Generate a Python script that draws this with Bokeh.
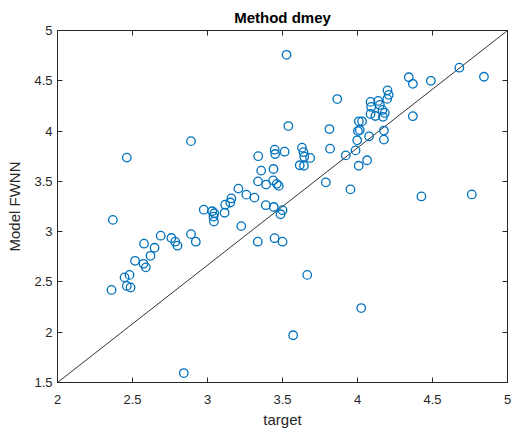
from bokeh.plotting import figure
from bokeh.models import LinearAxis, FixedTicker, Range1d
from bokeh.embed import file_html
from bokeh.resources import INLINE

# Target values and model (FWNN) predictions
target = [
    2.369, 2.360, 2.462, 2.447, 2.480, 2.462, 2.487, 2.517, 2.577, 2.573,
    2.589, 2.620, 2.647, 2.688, 2.759, 2.785, 2.800, 2.842, 2.890, 2.922,
    2.890, 2.975, 3.031, 3.045, 3.040, 3.043, 3.114, 3.118, 3.152, 3.159,
    3.206, 3.225, 3.259, 3.313, 3.335, 3.338, 3.358, 3.337, 3.391, 3.438,
    3.462, 3.475, 3.440, 3.448, 3.451, 3.514, 3.389, 3.442, 3.500, 3.487,
    3.447, 3.500, 3.539, 3.527, 3.571, 3.665, 4.025, 3.630, 3.640, 3.645,
    3.684, 3.615, 3.643, 3.789, 3.813, 3.817, 3.865, 3.922, 3.953, 3.987,
    3.998, 4.003, 4.015, 4.009, 4.030, 4.008, 4.064, 4.077, 4.087, 4.091,
    4.087, 4.119, 4.138, 4.149, 4.166, 4.182, 4.170, 4.176, 4.176, 4.200,
    4.208, 4.198, 4.342, 4.369, 4.369, 4.426, 4.489, 4.679, 4.762, 4.843,
]
model_fwnn = [
    3.117, 2.420, 3.736, 2.545, 2.570, 2.460, 2.445, 2.710, 2.880, 2.680,
    2.645, 2.760, 2.840, 2.960, 2.937, 2.900, 2.860, 1.594, 2.975, 2.900,
    3.900, 3.218, 3.203, 3.183, 3.150, 3.100, 3.188, 3.268, 3.290, 3.330,
    3.428, 3.055, 3.368, 3.338, 2.900, 3.750, 3.607, 3.500, 3.468, 3.510,
    3.475, 3.455, 3.623, 3.815, 3.772, 3.795, 3.263, 3.245, 3.213, 3.173,
    2.935, 2.900, 4.050, 4.758, 1.970, 2.570, 2.240, 3.835, 3.790, 3.745,
    3.733, 3.660, 3.655, 3.490, 4.020, 3.825, 4.318, 3.758, 3.420, 3.808,
    3.908, 4.000, 4.010, 4.097, 4.097, 3.655, 3.710, 3.948, 4.290, 4.240,
    4.170, 4.150, 4.300, 4.260, 4.210, 4.180, 4.142, 4.005, 3.915, 4.405,
    4.360, 4.320, 4.535, 4.470, 4.148, 3.350, 4.500, 4.630, 3.370, 4.540,
]

# Reference line spanning the axis box
ref_x = [2, 5]
ref_y = [1.5, 5]

x_ticks = [2, 2.5, 3, 3.5, 4, 4.5, 5]
x_tick_labels = ["2", "2.5", "3", "3.5", "4", "4.5", "5"]
y_ticks = [1.5, 2, 2.5, 3, 3.5, 4, 4.5, 5]
y_tick_labels = ["1.5", "2", "2.5", "3", "3.5", "4", "4.5", "5"]

FONT = "Liberation Sans"
AXIS_COLOR = "#262626"

p = figure(
    width=512, height=432,
    x_range=Range1d(2, 5), y_range=Range1d(1.5, 5),
    output_backend="svg", toolbar_location=None,
    min_border_left=57, min_border_right=5,
    min_border_top=30, min_border_bottom=50,
    title="Method dmey",
)
p.background_fill_color = "white"
p.border_fill_color = "white"
p.outline_line_color = AXIS_COLOR
p.outline_line_width = 1
p.grid.visible = False

p.title.align = "center"
p.title.text_font = FONT
p.title.text_font_size = "15px"
p.title.text_font_style = "bold"
p.title.text_color = "#000000"


def style_axis(ax, ticks, labels):
    ax.ticker = FixedTicker(ticks=ticks)
    ax.major_label_overrides = {t: l for t, l in zip(ticks, labels)}
    ax.major_tick_in = 5
    ax.major_tick_out = 0
    ax.minor_tick_line_color = None
    ax.axis_line_color = AXIS_COLOR
    ax.major_tick_line_color = AXIS_COLOR
    ax.major_label_text_font = FONT
    ax.major_label_text_font_size = "13px"
    ax.major_label_text_color = AXIS_COLOR
    ax.axis_label_text_font = FONT
    ax.axis_label_text_font_size = "15px"
    ax.axis_label_text_font_style = "normal"
    ax.axis_label_text_color = AXIS_COLOR


style_axis(p.xaxis[0], x_ticks, x_tick_labels)
style_axis(p.yaxis[0], y_ticks, y_tick_labels)
p.xaxis[0].axis_label = "target"
p.yaxis[0].axis_label = "Model FWNN"
p.xaxis[0].major_label_standoff = 12
p.yaxis[0].major_label_standoff = 5
p.xaxis[0].axis_label_standoff = 4
p.yaxis[0].axis_label_standoff = 8

# Tick marks on the top and right edges of the box, without labels
top_axis = LinearAxis()
style_axis(top_axis, x_ticks, [""] * len(x_ticks))
p.add_layout(top_axis, "above")
right_axis = LinearAxis()
style_axis(right_axis, y_ticks, [""] * len(y_ticks))
p.add_layout(right_axis, "right")

p.line(ref_x, ref_y, line_color="#333333", line_width=1)
p.scatter(target, model_fwnn, marker="circle", size=8.5,
          fill_color=None, line_color="#0072BD", line_width=1.3)

open("out.html", "w").write(file_html(p, INLINE))
